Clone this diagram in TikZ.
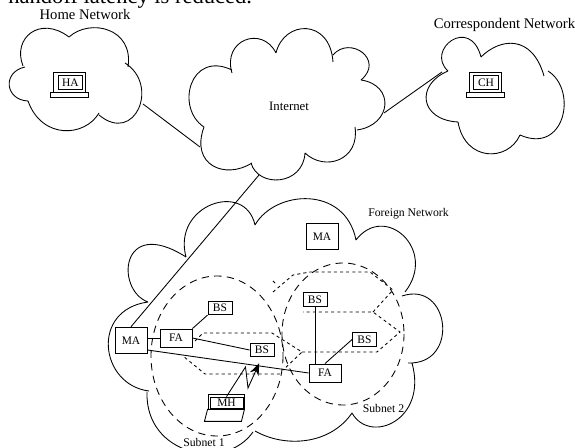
\documentclass[tikz,border=0pt]{standalone}
\usepackage{fontspec}
\setmainfont{Liberation Serif}
\usetikzlibrary{arrows.meta,positioning}

\begin{document}
\begin{tikzpicture}[x=0.75pt, y=-0.75pt, line width=0.65pt, node distance=0pt,
  every node/.style={inner sep=0pt, font=\fontsize{8.6}{10}\selectfont},
  area/.style={dash pattern=on 5.5pt off 4pt},
  cell/.style={dash pattern=on 2.3pt off 2.3pt},
  mabox/.style={draw, minimum width=24pt, minimum height=20pt},
  fabox/.style={draw, minimum width=24pt, minimum height=13.5pt},
  bsbox/.style={draw, minimum width=18pt, minimum height=10pt},
  lid/.style={draw, minimum width=24pt, minimum height=15pt},
  screen/.style={draw, minimum width=18.5pt, minimum height=11pt},
  keys/.style={draw, minimum width=28.5pt, minimum height=3.75pt},
  netname/.style={anchor=base, font=\fontsize{11}{13}\selectfont},
  subname/.style={anchor=base, font=\fontsize{8.8}{10}\selectfont}]
\useasboundingbox (0,0) rectangle (575,448);

\node[anchor=base west, font=\fontsize{16.9}{20}\selectfont] (caption) at (8,4) {handoff latency is reduced.};
\node[netname] (homename) at (85,20) {Home Network};
\node[netname] (corrname) at (504.5,29) {Correspondent Network};
\node[netname, font=\fontsize{9.6}{12}\selectfont] (internet) at (289,111) {Internet};
\node[subname] (foreignname) at (408.5,217) {Foreign Network};
\node[subname] (subname1) at (204,447) {Subnet 1};
\node[subname] (subname2) at (383.5,413) {Subnet 2};

\draw (23,66) .. controls (12,38) and (40,15) .. (69,37)
  (69,37) .. controls (90,18) and (134,28) .. (128,67)
  (125,63) .. controls (160,85) and (135,145) .. (99,115)
  (99,113) .. controls (85,137) and (42,140) .. (28,101)
  (28,101) .. controls (5,100) and (2,72) .. (25,67);

\draw (232,73) .. controls (222,40) and (262,25) .. (276,53)
  (276,53) .. controls (284,20) and (330,18) .. (333,62)
  (333,55) .. controls (350,35) and (385,60) .. (361,80)
  (361,80) .. controls (395,85) and (392,125) .. (357,130)
  (355,127) .. controls (360,160) and (325,172) .. (305,153)
  (305,153) .. controls (303,186) and (258,188) .. (251,163)
  (252,163) .. controls (225,180) and (190,165) .. (204,127)
  (204,127) .. controls (175,108) and (190,50) .. (232,70);

\draw (448,71) .. controls (425,50) and (470,15) .. (481,57)
  (481,57) .. controls (500,38) and (532,34) .. (544,76)
  (548,71) .. controls (578,90) and (565,155) .. (520,135)
  (520,135) .. controls (508,162) and (465,162) .. (458,122)
  (458,122) .. controls (420,120) and (415,85) .. (448,71);

\draw (186,257) .. controls (172,205) and (245,180) .. (255,225)
  (255,225) .. controls (275,190) and (345,185) .. (356,240)
  (356,240) .. controls (385,202) and (438,250) .. (405,292)
  (402,296) .. controls (450,280) and (460,365) .. (408,363)
  (412,363) .. controls (428,420) and (370,445) .. (352,413)
  (352,413) .. controls (330,445) and (285,448) .. (255,431)
  (253,432) .. controls (225,472) and (145,455) .. (147,392)
  (149,391) .. controls (100,385) and (90,310) .. (148,302)
  (148,302) .. controls (115,290) and (120,215) .. (186,257);

\draw[area] (217,356) ellipse [x radius=66, y radius=80];
\draw[area] (343,334) ellipse [x radius=61, y radius=71];

\draw[cell] (195,341) -- (203,333) -- (272,333) -- (302,352) -- (283,370) (280,374) -- (205,374) -- (183,356);
\draw[cell] (302,352) -- (377,352) -- (400,332) -- (373,312) -- (303,312);
\draw[cell] (373,312) -- (393,290) -- (370,272) -- (310,272) -- (293,275) -- (273,292);
\draw[cell] (273,281) -- (276,284);

\node[mabox] (MAleft) at (131,340.5) {MA};
\node[mabox] (MAtop) at (322,236.5) {MA};
\node[fabox] (FAleft) at (176,338) {FA};
\node[fabox] (FAright) at (325,373) {FA};
\node[bsbox] (BSa) at (220,308) {BS};
\node[bsbox] (BSb) at (262,350) {BS};
\node[bsbox] (BSc) at (315,299.5) {BS};
\node[bsbox] (BSd) at (364.5,339.5) {BS};

\node[lid] (HAlid) at (69,82) {};
\node[keys, below=of HAlid] (HAkeys) {};
\node[screen] (HA) at (70.5,82.5) {HA};
\node[lid] (CHlid) at (485.5,82) {};
\node[keys, below=of CHlid] (CHkeys) {};
\node[screen] (CH) at (486,82.5) {CH};
\node[draw, minimum width=27pt, minimum height=11.25pt] (MHlid) at (226,401.5) {};
\node[draw, minimum width=24.75pt, minimum height=8.25pt] (MH) at (226.5,402.5) {MH};
\draw (MHlid.south west) -- (MHlid.south east) -- ++(-3,12) -- ++(-37,0) -- cycle;

\coordinate (homeport) at (143,104);
\coordinate (netwest) at (200,147);
\coordinate (neteast) at (384,113);
\coordinate (corrport) at (442,72);
\coordinate (netsouth) at (259,175);
\coordinate (zigup) at (245.5,367);
\coordinate (zigdown) at (248,388);

\draw (homeport) -- (netwest);
\draw (neteast) -- (corrport);
\draw (netsouth) -- (MAleft.north);
\draw (FAleft.west) -- (FAleft.west -| MAleft.east);
\draw (FAleft.north east) -- (BSa.south west);
\draw (FAleft.east) -- (BSb.west);
\draw (MAleft.-30) -- (FAright.west);
\draw (BSc.south) -- (BSc.south |- FAright.north);
\draw (FAright.north) -- (BSd.west);
\draw[-{Stealth[length=9pt, width=7pt]}, shorten >=5pt] (MH.north) -- (zigup) -- (zigdown) -- (BSb.south);
\end{tikzpicture}
\end{document}
